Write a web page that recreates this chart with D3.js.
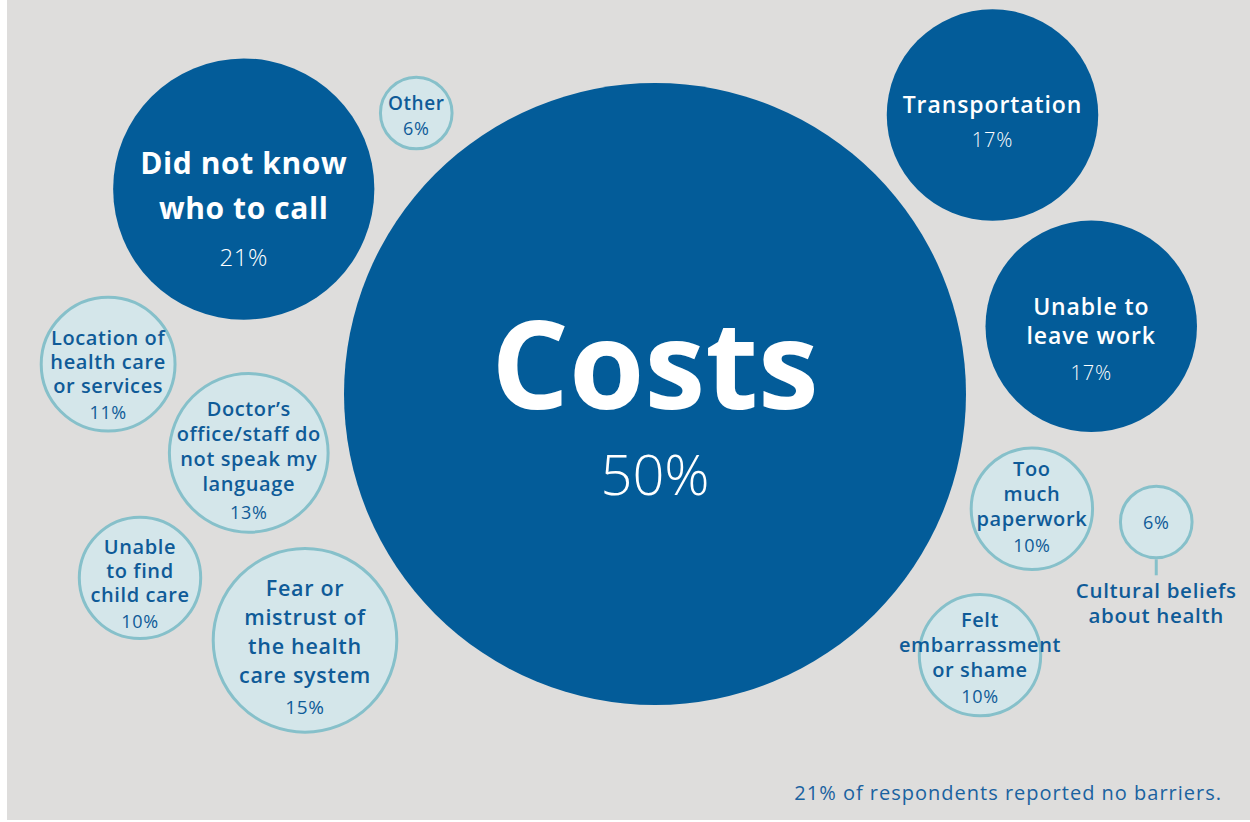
<!DOCTYPE html>
<html>
<head>
<meta charset="utf-8">
<script src="https://cdn.jsdelivr.net/npm/d3@7"></script>
<style>
  html, body { margin: 0; padding: 0; background: #ffffff; }
  svg { display: block; }
  text { font-family: "Open Sans", "Noto Sans", sans-serif; }
</style>
</head>
<body>
<div id="chart"></div>
<script>
// ---------- data ----------
const categories = [
  "Costs", "Did not know who to call", "Other", "Transportation",
  "Unable to leave work", "Location of health care or services",
  "Doctor's office/staff do not speak my language", "Unable to find child care",
  "Fear or mistrust of the health care system", "Too much paperwork",
  "Cultural beliefs about health", "Felt embarrassment or shame"
];
const values = [50, 21, 6, 17, 17, 11, 13, 10, 15, 10, 6, 10];
const labelLines = [
  ["Costs"],
  ["Did not know", "who to call"],
  ["Other"],
  ["Transportation"],
  ["Unable to", "leave work"],
  ["Location of", "health care", "or services"],
  ["Doctor\u2019s", "office/staff do", "not speak my", "language"],
  ["Unable", "to find", "child care"],
  ["Fear or", "mistrust of", "the health", "care system"],
  ["Too", "much", "paperwork"],
  ["Cultural beliefs", "about health"],
  ["Felt", "embarrassment", "or shame"]
];
const groups = ["hero", "major", "minor", "major", "major", "minor", "minor", "minor", "minor", "minor", "minor", "minor"];
const footnote = "21% of respondents reported no barriers.";

// ---------- hand layout (layout units 0-100 across / down) ----------
const layoutX = [52.4, 19.5, 33.3, 79.4, 87.3, 8.65, 19.9, 11.2, 24.4, 82.55, 92.5, 78.4];
const layoutY = [47.93, 23.0, 13.75, 14.0, 39.7, 44.3, 55.1, 70.3, 77.9, 61.9, 63.5, 79.7];
const outsideLabel = [false, false, false, false, false, false, false, false, false, false, true, false];
// label styling per bubble: vertical shift of text block, line step, gap to %, label size, % size
const labelStyle = [
  { shift: 26, lh: 0,  gap: 110, size: 122, weight: 700, psize: 56, ls: 0 },
  { shift: 21, lh: 45, gap: 49, size: 30, weight: 700, psize: 24, ls: 0.6 },
  { shift: 3,  lh: 0,  gap: 25, size: 19, weight: 600, psize: 18, ls: 0.6 },
  { shift: 7,  lh: 0,  gap: 35, size: 23, weight: 600, psize: 20, ls: 0.9 },
  { shift: 13, lh: 29, gap: 37, size: 23, weight: 600, psize: 20, ls: 0.9 },
  { shift: 11, lh: 24, gap: 26, size: 20, weight: 600, psize: 18, ls: 0.6 },
  { shift: 8,  lh: 25, gap: 29, size: 20, weight: 600, psize: 18, ls: 0.6 },
  { shift: 6,  lh: 24, gap: 27, size: 20, weight: 600, psize: 18, ls: 0.6 },
  { shift: 7,  lh: 29, gap: 32, size: 21.5, weight: 600, psize: 19, ls: 0.7 },
  { shift: -2, lh: 25, gap: 27, size: 20, weight: 600, psize: 18, ls: 0.6 },
  { shift: 1,  lh: 25, gap: 69, size: 20.5, weight: 600, psize: 18, ls: 0.7 },
  { shift: 3,  lh: 25, gap: 26, size: 20, weight: 600, psize: 18, ls: 0.6 }
];

// ---------- drawing ----------
const W = 1250, H = 822;
const svg = d3.select("#chart").append("svg").attr("width", W).attr("height", H);

svg.append("rect").attr("x", 7).attr("y", 0).attr("width", W - 7).attr("height", 820).attr("fill", "#dedddc");

const x = d3.scaleLinear().domain([0, 100]).range([0, W]);
const y = d3.scaleLinear().domain([0, 100]).range([0, H]);
const r = d3.scaleLinear().domain([0, 50]).range([0, 311]);

const DARK = "#035c99";
const LIGHT_FILL = "#d4e6ea";
const LIGHT_STROKE = "#86c0ca";
const TEXT_BLUE = "#0f5b98";

const data = categories.map((c, i) => ({
  name: c, value: values[i], lines: labelLines[i], group: groups[i],
  cx: x(layoutX[i]), cy: y(layoutY[i]), r: r(values[i]), outside: outsideLabel[i], st: labelStyle[i]
}));

const g = svg.append("g");

g.selectAll("line.leader").data(data.filter(d => d.outside)).join("line")
  .attr("class", "leader")
  .attr("x1", d => d.cx).attr("x2", d => d.cx)
  .attr("y1", d => d.cy + d.r).attr("y2", d => d.cy + d.r + 16)
  .attr("stroke", LIGHT_STROKE).attr("stroke-width", 3);

g.selectAll("circle").data(data).join("circle")
  .attr("cx", d => d.cx).attr("cy", d => d.cy).attr("r", d => d.group === "minor" ? d.r - 1.5 : d.r)
  .attr("fill", d => d.group === "minor" ? LIGHT_FILL : DARK)
  .attr("stroke", d => d.group === "minor" ? LIGHT_STROKE : "none")
  .attr("stroke-width", 3);

// one text element per bubble; lines are tspans
data.forEach(d => {
  const s = d.st;
  const fill = d.group === "minor" ? TEXT_BLUE : "#ffffff";
  const pw = d.group === "minor" ? 400 : 300;
  const n = d.lines.length;
  let lineYs, pctY;
  if (d.outside) {
    pctY = d.cy + s.shift;
    lineYs = d.lines.map((_, k) => d.cy + s.gap + k * s.lh);
  } else {
    const span = (n - 1) * s.lh + s.gap;
    const first = d.cy + s.shift - span / 2;
    lineYs = d.lines.map((_, k) => first + k * s.lh);
    pctY = first + span;
  }
  const t = g.append("text").attr("text-anchor", "middle").attr("fill", fill)
    .attr("letter-spacing", s.ls);
  const pctSpan = () => t.append("tspan").attr("x", d.cx).attr("y", pctY + 0.36 * s.psize)
    .attr("font-size", s.psize).attr("font-weight", pw).text(d.value + "%");
  if (d.outside) pctSpan();
  d.lines.forEach((ln, k) => {
    t.append("tspan").attr("x", d.cx).attr("y", lineYs[k] + 0.36 * s.size)
      .attr("font-size", s.size).attr("font-weight", s.weight).text(ln);
  });
  if (!d.outside) pctSpan();
});

svg.append("text").attr("x", 1222).attr("y", 800).attr("text-anchor", "end")
  .attr("font-size", 20).attr("font-weight", 400).attr("letter-spacing", 1).attr("fill", "#1a62a0").text(footnote);
</script>
</body>
</html>
